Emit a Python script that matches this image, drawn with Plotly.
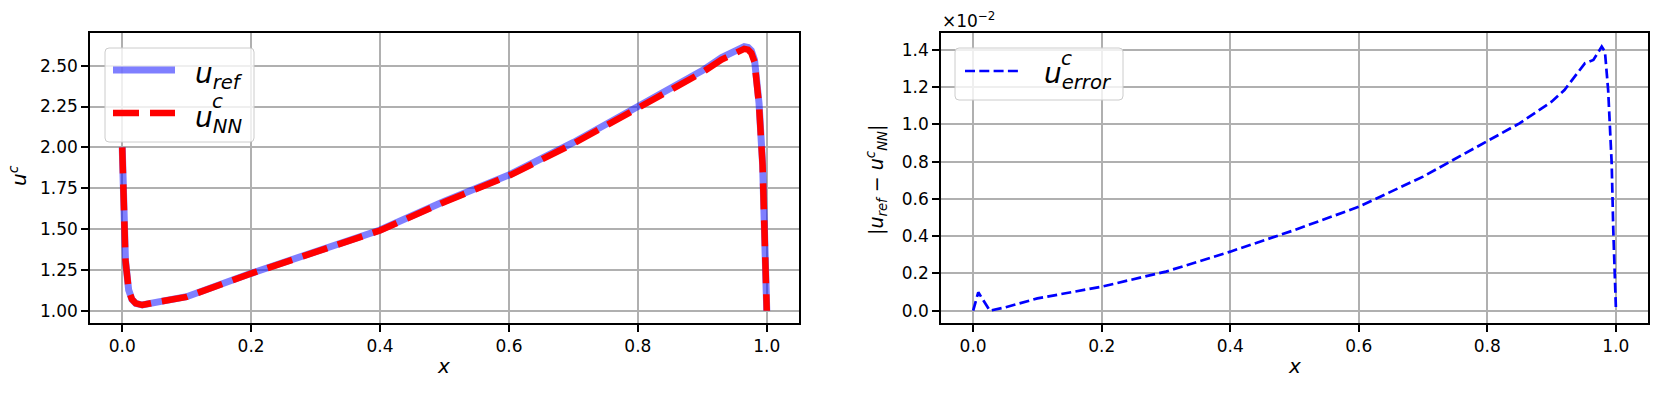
import plotly.graph_objects as go

# ========== DATA ==========

# left panel: reference solution and network solution
x_u = [0.0, 0.0026, 0.005, 0.01, 0.015, 0.021, 0.031, 0.05, 0.1, 0.2, 0.3, 0.4, 0.5,
       0.6, 0.7, 0.8, 0.9, 0.93, 0.949, 0.958, 0.965, 0.971, 0.976, 0.981, 0.985, 0.988,
       0.9935, 0.997, 1.0]
u_ref = [2.0, 1.68, 1.31, 1.127, 1.07, 1.045, 1.035, 1.05, 1.086, 1.229, 1.361, 1.494, 1.67,
         1.831, 2.03, 2.245, 2.47, 2.55, 2.59, 2.61, 2.617, 2.612, 2.592, 2.535, 2.413, 2.27,
         1.90, 1.494, 1.0]
u_nn = [2.0, 1.68, 1.31, 1.127, 1.07, 1.045, 1.035, 1.05, 1.085, 1.228, 1.359, 1.491, 1.666,
        1.826, 2.023, 2.236, 2.459, 2.537, 2.577, 2.597, 2.603, 2.598, 2.578, 2.522, 2.401,
        2.258, 1.892, 1.49, 1.0]

# right panel: absolute error (in units of 1e-2)
x_err = [0.0, 0.008, 0.026, 0.05, 0.1, 0.2, 0.3, 0.4, 0.5, 0.6, 0.7, 0.8, 0.85, 0.9, 0.92,
         0.952, 0.965, 0.978, 0.983, 0.988, 0.9935, 0.996, 1.0]
err = [0.0, 0.099, 0.0, 0.018, 0.066, 0.129, 0.21, 0.317, 0.433, 0.558, 0.72, 0.908, 1.006,
       1.122, 1.185, 1.329, 1.346, 1.418, 1.391, 1.185, 0.79, 0.433, 0.02]

x_ticks = [0.0, 0.2, 0.4, 0.6, 0.8, 1.0]

FONT = 'DejaVu Sans'
W, H = 1661, 393


def px(x):
    return x / W


def py(y):
    return 1 - y / H


fig = go.Figure()

fig.add_trace(go.Scatter(
    x=x_u, y=u_ref, mode='lines', name='u_ref',
    line=dict(color='rgba(0,0,255,0.5)', width=7),
    xaxis='x', yaxis='y'
))
fig.add_trace(go.Scatter(
    x=x_u, y=u_nn, mode='lines', name='u_NN',
    line=dict(color='red', width=6.5, dash='26px,11px'),
    xaxis='x', yaxis='y'
))
fig.add_trace(go.Scatter(
    x=x_err, y=err, mode='lines', name='u_error',
    line=dict(color='blue', width=2.7, dash='10px,4.3px'),
    xaxis='x2', yaxis='y2'
))

axis_style = dict(
    showline=True, mirror=True, linecolor='black', linewidth=1.6,
    ticks='outside', ticklen=7, tickwidth=1.6, tickcolor='black',
    showgrid=True, gridcolor='#b0b0b0', gridwidth=1.5,
    zeroline=False, automargin=False,
    tickfont=dict(size=17, color='black', family=FONT),
)

y_dom = [py(323), py(33)]

fig.update_layout(
    width=W, height=H,
    margin=dict(l=0, r=0, t=0, b=0),
    paper_bgcolor='white', plot_bgcolor='white',
    font=dict(family=FONT, color='black'),
    showlegend=False,
    xaxis=dict(domain=[px(90), px(799)], range=[-0.05, 1.05], tickvals=x_ticks,
               tickformat='.1f', anchor='y', **axis_style),
    yaxis=dict(domain=y_dom, range=[0.925, 2.70], dtick=0.25, tickformat='.2f',
               anchor='x', **axis_style),
    xaxis2=dict(domain=[px(941), px(1648)], range=[-0.05, 1.05], tickvals=x_ticks,
                tickformat='.1f', anchor='y2', **axis_style),
    yaxis2=dict(domain=y_dom, range=[-0.066, 1.491], dtick=0.2, tickformat='.1f',
                anchor='x2', **axis_style),
)


# ========== LEGENDS (drawn by hand, matplotlib style) ==========

def legend_box(x0, y0, x1, y1, r=4):
    pts = (f"M{px(x0 + r)},{py(y0)} L{px(x1 - r)},{py(y0)} Q{px(x1)},{py(y0)} {px(x1)},{py(y0 + r)} "
           f"L{px(x1)},{py(y1 - r)} Q{px(x1)},{py(y1)} {px(x1 - r)},{py(y1)} "
           f"L{px(x0 + r)},{py(y1)} Q{px(x0)},{py(y1)} {px(x0)},{py(y1 - r)} "
           f"L{px(x0)},{py(y0 + r)} Q{px(x0)},{py(y0)} {px(x0 + r)},{py(y0)} Z")
    fig.add_shape(type='path', path=pts, xref='paper', yref='paper', layer='above',
                  fillcolor='rgba(255,255,255,0.8)', line=dict(color='#cccccc', width=1))


def legend_line(x0, x1, y, **line):
    fig.add_shape(type='line', xref='paper', yref='paper', layer='above',
                  x0=px(x0), x1=px(x1), y0=py(y), y1=py(y), line=line)


def label(text, x, y, size, **kw):
    fig.add_annotation(text=text, xref='paper', yref='paper', x=px(x), y=py(y),
                       showarrow=False, xanchor=kw.pop('xanchor', 'left'),
                       yanchor=kw.pop('yanchor', 'middle'),
                       font=dict(size=size, family=FONT, color='black'), **kw)


legend_box(105, 48, 254, 142)
legend_line(113, 175, 70, color='rgba(0,0,255,0.5)', width=7)
legend_line(113, 175, 113, color='red', width=6.5, dash='26px,11px')
label('<i>u</i><sub><i>ref</i></sub>', 193, 76, 28)
label('<i>u</i><sub><i>NN</i></sub>', 193, 119, 28)
label('<i>c</i>', 210, 101, 20)

legend_box(955, 48, 1123, 100)
legend_line(965, 1022, 71, color='blue', width=2.7, dash='10px,4.3px')
label('<i>u</i><sub><i>error</i></sub>', 1042, 76, 28)
label('<i>c</i>', 1059, 58, 20)

# axis titles
label('<i>u</i><sup><i>c</i></sup>', 18, 176, 20, xanchor='center', textangle=-90)
label('<i>x</i>', 444, 366, 20, xanchor='center')
label('<i>x</i>', 1294, 366, 20, xanchor='center')
label('|<i>u</i><sub><i>ref</i></sub> \u2212 <i>u</i><sup><i>c</i></sup><sub><i>NN</i></sub>|',
      876, 180, 19, xanchor='center', textangle=-90)

# offset text of the error axis
label('\u00d710<sup>\u22122</sup>', 940, 20, 17)

fig.write_html("out.html", config={'displayModeBar': False},
               post_script="document.body.style.margin='0';")
